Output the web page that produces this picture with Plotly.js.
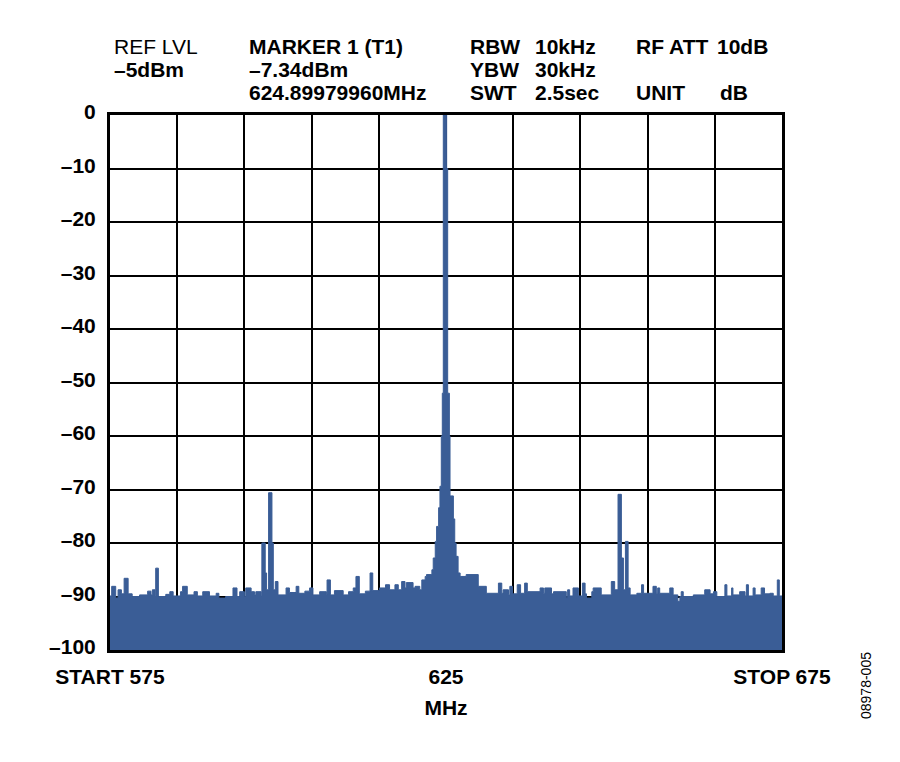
<!DOCTYPE html>
<html>
<head>
<meta charset="utf-8">
<script src="https://cdn.plot.ly/plotly-3.0.1.min.js"></script>
<style>html,body{margin:0;padding:0;background:#fff;}#chart{width:900px;height:762px;}</style>
</head>
<body>
<div id="chart"></div>
<script>
// ---- Data ----
// Lower side of the span: frequency (MHz, step start) and level (dB)
const lowerFreq = [575, 575.25, 575.85, 576.2, 576.7, 577.1, 577.7, 578.3, 579.4, 580.6, 581.1, 581.3, 581.7, 581.8, 582.2, 583.3, 583.9, 584.4, 585.5, 585.8, 586.5, 587.5, 588, 588.8, 589.8, 590.8, 591.2, 592.2, 593.3, 593.9, 594.3, 595, 595.2, 596, 596.5, 596.7, 597.5, 597.6, 598.1, 598.3, 598.6, 599.1, 599.3, 599.6, 600, 601.2, 601.7, 602.7, 603.1, 604.0, 604.7, 605.2, 606.2, 607.2, 607.3, 607.8, 608.4, 609.7, 610.5, 611.2, 611.6, 612.1, 613, 613.7, 614.1, 615.1, 616, 616.6, 617.4, 617.9, 618.4, 618.9, 619.1, 620.1, 620.4, 621.1, 621.4, 621.9, 622.1, 622.9, 623.1, 623.4, 623.6, 623.9, 624.1];
const lowerLevel = [-89.9, -88.1, -90.3, -88.75, -89.5, -86.6, -89.5, -90.0, -89.7, -89.0, -89.7, -88.75, -89.8, -84.7, -90.0, -89.6, -89.1, -89.9, -89.1, -88.1, -89.7, -89.1, -89.9, -89.1, -89.9, -89.4, -90.3, -90.0, -88.4, -90.0, -89.1, -90.0, -88.4, -89.1, -89.7, -89.1, -89.9, -80.0, -85.6, -88.75, -70.6, -80.0, -88.75, -87.2, -89.7, -88.4, -89.25, -88.1, -89.4, -89.0, -88.4, -89.7, -89.1, -89.6, -86.9, -89.7, -88.9, -89.7, -89.1, -88.4, -86.25, -89.5, -89.0, -85.6, -88.9, -88.4, -87.8, -88.75, -87.8, -88.75, -87.2, -88.4, -87.4, -88.4, -88.1, -88.75, -86.9, -86.25, -85.9, -85.0, -82.8, -79.7, -76.9, -73.4, -69.4];
// Carrier region
const carrierFreq = [624.3, 624.45, 624.6, 625.1, 625.25, 625.5, 625.6, 626.1, 626.3, 626.5, 626.8, 627.1, 628.0];
const carrierLevel = [-60, -52, 0, -10, -52, -60, -71.2, -75.5, -80, -82.5, -85.6, -86.25, -85.9];
// Upper side of the span
const upperFreq = [629.8, 631.0, 632.8, 633.3, 633.5, 634.3, 634.5, 634.9, 635.6, 636.1, 636.7, 637.1, 639.0, 639.5, 639.7, 640.7, 641.0, 642.9, 643.1, 643.4, 643.9, 644.7, 645.3, 645.7, 645.9, 646.7, 646.9, 648.1, 649.6, 650.1, 650.6, 651.1, 651.4, 651.7, 652.1, 652.4, 653.4, 654.1, 654.4, 655.8, 656.3, 656.5, 656.8, 658.3, 658.8, 659.5, 659.8, 660.0, 660.3, 661.8, 663.5, 664.3, 664.8, 665.3, 666.5, 666.8, 667.5, 667.7, 668.7, 669.5, 669.7, 670.0, 670.7, 671.0, 671.9, 672.4, 673.2, 673.7, 674.3, 674.6, 675];
const upperLevel = [-88.1, -89.4, -87.5, -89.4, -88.75, -89.7, -88.1, -89.5, -87.8, -89.4, -87.5, -89.1, -88.4, -89.4, -88.4, -89.5, -89.1, -90.3, -88.75, -89.9, -88.4, -89.9, -87.5, -89.5, -90.3, -89.1, -88.4, -89.7, -87.2, -88.75, -70.9, -82.8, -88.75, -79.7, -88.4, -89.7, -89.4, -87.8, -89.4, -88.1, -89.4, -88.4, -89.4, -88.4, -89.7, -90.9, -90.0, -89.1, -90.0, -89.7, -88.75, -89.5, -89.1, -90.0, -87.8, -89.9, -88.4, -89.7, -89.1, -89.9, -87.8, -89.9, -88.4, -89.7, -88.4, -89.5, -89.4, -89.9, -86.9, -89.9, -89.9];

const yTickVals = [0, -10, -20, -30, -40, -50, -60, -70, -80, -90, -100];
const yTickText = ['0', '–10', '–20', '–30', '–40', '–50', '–60', '–70', '–80', '–90', '–100'];
const xTickVals = [575, 585, 595, 605, 615, 625, 635, 645, 655, 665, 675];
const xTickText = ['START 575', '', '', '', '', '625', '', '', '', '', 'STOP 675'];

const freq = lowerFreq.concat(carrierFreq, upperFreq);
const level = lowerLevel.concat(carrierLevel, upperLevel);
const floorLevel = -100;

const blue = '#3a5d96';
const FONT = 'Liberation Sans, Arial, Helvetica, sans-serif';

const traces = [
  {x: [575, 675], y: [floorLevel, floorLevel], mode: 'lines', line: {width: 0, color: blue}, hoverinfo: 'skip', showlegend: false},
  {x: freq, y: level, mode: 'lines', line: {shape: 'hv', color: blue, width: 1}, fill: 'tonexty', fillcolor: blue, showlegend: false}
];

// plot-area pixel helpers for annotation placement
const L = 110, R = 782, T = 115, B = 650;
const px = x => (x - L) / (R - L);
const py = y => (B - y) / (B - T);

function ann(text, x, y, bold, size) {
  return {text: text, x: px(x), y: py(y), xref: 'paper', yref: 'paper', xanchor: 'left', yanchor: 'middle', showarrow: false,
          borderpad: 0,
          font: {family: FONT, size: size || 21, color: '#000', weight: bold ? 'bold' : 'normal'}};
}
const r1 = 46, r2 = 69.5, r3 = 93;
const annotations = [
  ann('REF LVL', 113, r1, false),
  ann('–5dBm', 113, r2, true),
  ann('MARKER 1 (T1)', 248, r1, true),
  ann('–7.34dBm', 248, r2, true),
  ann('624.89979960MHz', 248, r3, true),
  ann('RBW', 469, r1, true),
  ann('YBW', 469, r2, true),
  ann('SWT', 469, r3, true),
  ann('10kHz', 534, r1, true),
  ann('30kHz', 534, r2, true),
  ann('2.5sec', 534, r3, true),
  ann('RF ATT', 635, r1, true),
  ann('10dB', 716, r1, true),
  ann('UNIT', 635, r3, true),
  ann('dB', 719, r3, true),
  {text: '08978-005', x: px(866), y: py(686), xref: 'paper', yref: 'paper', xanchor: 'center', yanchor: 'middle', showarrow: false, textangle: -90,
   font: {family: FONT, size: 14, color: '#000'}}
];

const layout = {
  width: 900, height: 762,
  margin: {l: L, r: 900 - R, t: T, b: 762 - B, pad: 0},
  paper_bgcolor: '#fff', plot_bgcolor: '#fff',
  showlegend: false,
  xaxis: {
    range: [575, 675], tickvals: xTickVals, ticktext: xTickText, ticks: '',
    showgrid: true, gridcolor: '#000', gridwidth: 2, zeroline: false,
    showline: true, linecolor: '#000', linewidth: 3, mirror: true,
    tickfont: {family: FONT, size: 21, color: '#000', weight: 'bold'},
    ticklabelstandoff: 6,
    title: {text: 'MHz', font: {family: FONT, size: 21, color: '#000', weight: 'bold'}, standoff: 14},
    fixedrange: true
  },
  yaxis: {
    range: [-100, 0], tickvals: yTickVals, ticktext: yTickText, ticks: '',
    showgrid: true, gridcolor: '#000', gridwidth: 2, zeroline: false,
    showline: true, linecolor: '#000', linewidth: 3, mirror: true,
    tickfont: {family: FONT, size: 21, color: '#000', weight: 'bold'},
    ticklabelstandoff: 7, ticklabelshift: -3,
    fixedrange: true
  },
  annotations: annotations
};

Plotly.newPlot('chart', traces, layout, {displayModeBar: false, staticPlot: true});
</script>
</body>
</html>
